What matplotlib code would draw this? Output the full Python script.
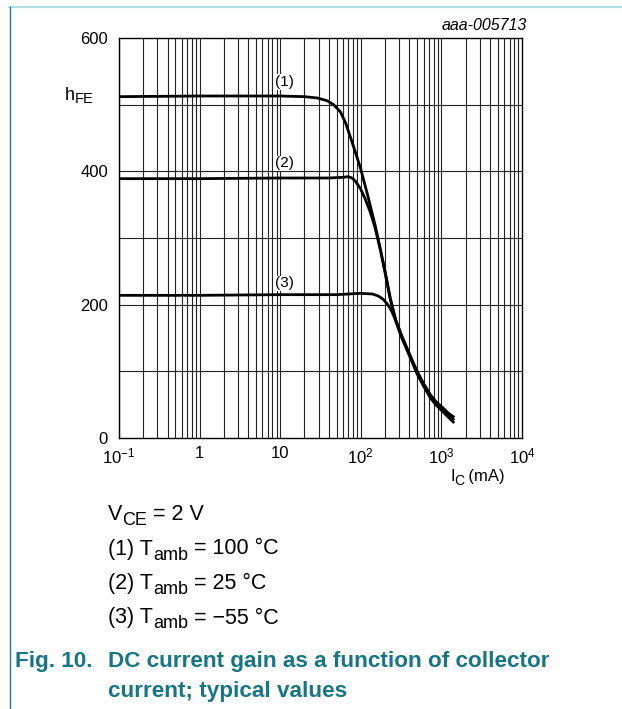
import matplotlib
matplotlib.use("Agg")
import matplotlib.pyplot as plt
from matplotlib.lines import Line2D
from matplotlib.ticker import NullLocator

plt.rcParams['font.family'] = ['Liberation Sans', 'DejaVu Sans']
plt.rcParams['mathtext.fontset'] = 'custom'
plt.rcParams['mathtext.rm'] = 'Liberation Sans'
plt.rcParams['mathtext.default'] = 'regular'

# data (I_C in mA, hFE)
ic_1 = [0.1, 1, 10, 20, 29, 38, 46, 56, 65, 74, 85, 99, 120, 150, 175, 200, 232, 270,
        320, 380, 440, 500, 600, 730, 850, 1050, 1200, 1400]
hfe_1 = [512, 513, 513, 512, 510, 506, 500, 489, 472, 452, 430, 405, 367, 320, 283, 248, 208, 176,
         151, 130, 112, 96, 78, 60, 50, 39, 32, 24]

ic_2 = [0.1, 1, 10, 40, 60, 70, 78, 86, 99, 113, 130, 150, 175, 200, 232, 270,
        320, 380, 440, 500, 600, 730, 850, 1050, 1200, 1400]
hfe_2 = [389, 389, 390, 390, 391, 392, 390, 385, 374, 359, 340, 316, 282, 250, 210, 178,
         153, 132, 114, 98, 80, 63, 53, 42, 35, 28]

ic_3 = [0.1, 1, 10, 50, 99, 140, 165, 190, 213, 240, 270, 320, 380, 440, 500, 600,
        730, 850, 1050, 1200, 1400]
hfe_3 = [214, 214, 215, 215, 217, 216, 213, 208, 201, 191, 177, 154, 133, 115, 100, 82,
         65, 55, 45, 38, 32]

curve_labels = ['(1)', '(2)', '(3)']
label_pos = [(11.3, 534), (11.3, 412), (11.3, 232)]

y_ticks = [0, 200, 400, 600]
x_ticks = [0.1, 1, 10, 100, 1000, 10000]
x_ticklabels = ['$10^{-1}$', '1', '10', '$10^{2}$', '$10^{3}$', '$10^{4}$']

W, H = 622, 709
fig = plt.figure(figsize=(W / 100, H / 100), dpi=100)
ax = fig.add_axes([119 / W, 1 - 438 / H, (522 - 119) / W, (438 - 38) / H])

ax.set_xscale('log')
ax.set_xlim(0.1, 10000)
ax.set_ylim(0, 600)

# grid: every line of the log decades, hFE every 100
for dec in range(-1, 4):
    for m in range(1, 10):
        ax.axvline(m * 10.0 ** dec, color='#222222', lw=0.8, zorder=1)
for v in range(100, 600, 100):
    ax.axhline(v, color='#222222', lw=0.8, zorder=1)

for xs, ys in [(ic_1, hfe_1), (ic_2, hfe_2), (ic_3, hfe_3)]:
    ax.plot(xs, ys, color='black', lw=2.0, zorder=3)

for lab, (xp, yp) in zip(curve_labels, label_pos):
    ax.text(xp, yp, lab, fontsize=11, ha='center', va='center', zorder=4,
            bbox=dict(facecolor='white', edgecolor='none', pad=0.6))

ax.set_yticks(y_ticks)
ax.set_yticklabels([str(v) for v in y_ticks], fontsize=12)
ax.set_xticks(x_ticks)
ax.set_xticklabels(x_ticklabels, fontsize=12)
ax.tick_params(axis='y', length=0, pad=8)
ax.tick_params(axis='x', length=0, pad=6)
ax.xaxis.set_minor_locator(NullLocator())
for s in ax.spines.values():
    s.set_linewidth(1.0)


def rich(x, y, pieces, **kw):
    # pieces: (text, fontsize, baseline shift in px); x, y in px from top-left
    cur = x
    r = fig.canvas.get_renderer()
    for s, size, dy in pieces:
        t = fig.text(cur / W, 1 - (y + dy) / H, s, fontsize=size,
                     ha='left', va='baseline', **kw)
        cur = t.get_window_extent(renderer=r).x1


rich(65, 100, [('h', 13, 0), ('FE', 10.5, 3)])
rich(450, 481, [('I', 12, 0), ('C', 10, 4), ('\u2009(mA)', 12, 0)])
fig.text(527 / W, 1 - 25 / H, 'aaa-005713', fontsize=11.5, style='italic',
         ha='right', va='center')

note_rows = [
    [('V', 15.5, 0), ('CE', 13, 5), (' = 2 V', 15.5, 0)],
    [('(1) T', 15.5, 0), ('amb', 13, 5), (' = 100 °C', 15.5, 0)],
    [('(2) T', 15.5, 0), ('amb', 13, 5), (' = 25 °C', 15.5, 0)],
    [('(3) T', 15.5, 0), ('amb', 13, 5), (' = \u221255 °C', 15.5, 0)],
]
for i, row in enumerate(note_rows):
    rich(108, 520 + 34.5 * i, row)

teal = '#187585'
fig.text(15 / W, 1 - 661 / H, 'Fig. 10.', fontsize=16.2, weight='bold', color=teal,
         ha='left', va='center')
fig.text(108 / W, 1 - 661 / H, 'DC current gain as a function of collector',
         fontsize=16.2, weight='bold', color=teal, ha='left', va='center')
fig.text(108 / W, 1 - 691 / H, 'current; typical values', fontsize=16.2,
         weight='bold', color=teal, ha='left', va='center')

# page frame lines
fig.add_artist(Line2D([9 / W, 1], [1 - 6.5 / H, 1 - 6.5 / H], color='#b5dde4', lw=1.6))
fig.add_artist(Line2D([9.5 / W, 9.5 / W], [0, 1 - 7 / H], color='#1f7f8f', lw=1.0))

fig.savefig('out.png', dpi=100)
